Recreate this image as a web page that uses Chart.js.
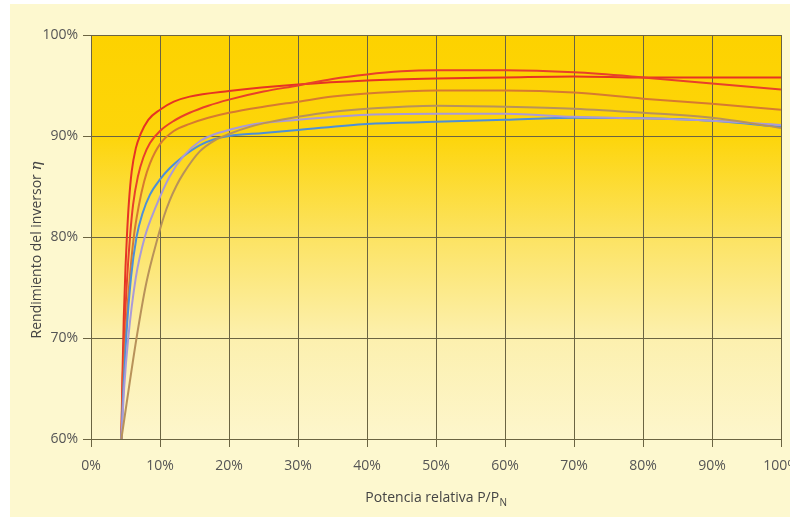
<!DOCTYPE html>
<html>
<head>
<meta charset="utf-8">
<script src="https://cdn.jsdelivr.net/npm/chart.js@4.4.1/dist/chart.umd.min.js"></script>
<style>
  html, body { margin: 0; padding: 0; background: #fff; }
  canvas { display: block; }
</style>
</head>
<body>
<canvas id="myChart" width="790" height="517"></canvas>
<script>
// curvas de rendimiento: [P/PN en %, rendimiento en %]
let rojo1 = [[4.4, 60], [4.55, 66], [4.75, 72], [5.0, 77], [5.2, 80], [5.5, 83.5], [5.9, 86.5], [6.5, 88.8], [7.2, 90.2], [8.3, 91.6], [10, 92.6], [12, 93.4], [14.3, 93.9], [20, 94.45], [30, 95.1], [40, 95.5], [50, 95.7], [60, 95.8], [70, 95.9], [80, 95.8], [90, 95.8], [100, 95.8]];
let rojo2 = [[4.4, 60], [4.6, 66], [4.8, 70], [5.2, 75.5], [5.65, 80], [6.1, 83.2], [6.8, 86], [7.6, 87.9], [8.55, 89.3], [10, 90.5], [12, 91.5], [14.3, 92.3], [17, 93], [20, 93.6], [25, 94.4], [30, 95.0], [35, 95.65], [40, 96.1], [45, 96.4], [50, 96.5], [60, 96.5], [70, 96.3], [80, 95.8], [90, 95.2], [100, 94.6]];
let naranja = [[4.4, 60], [4.7, 66], [5.0, 70], [5.5, 75], [6.2, 80], [6.9, 83], [7.7, 85.5], [8.55, 87.3], [10, 89.2], [12, 90.5], [14.3, 91.2], [17, 91.8], [20, 92.3], [25, 92.9], [30, 93.4], [35, 93.9], [40, 94.2], [50, 94.5], [60, 94.5], [70, 94.3], [80, 93.7], [90, 93.2], [100, 92.6]];
let marron = [[4.4, 60], [6.6, 70], [8.0, 75.4], [9.7, 80], [10.6, 82.1], [11.4, 83.6], [12.4, 85.1], [13.4, 86.3], [15.8, 88.5], [18, 89.6], [20, 90.2], [23, 90.9], [26, 91.4], [30, 91.9], [35, 92.4], [40, 92.7], [50, 93.0], [60, 92.9], [70, 92.7], [80, 92.3], [90, 91.8], [100, 90.8]];
let lila = [[4.4, 60], [4.8, 65], [5.4, 70], [6.5, 76], [7.8, 80], [9.4, 83], [11.4, 86], [13.4, 88], [15.8, 89.5], [18, 90.2], [20, 90.6], [23, 91.1], [30, 91.6], [40, 92.1], [50, 92.2], [60, 92.2], [70, 91.9], [80, 91.75], [90, 91.5], [100, 91.1]];
let azul = [[4.4, 60], [4.7, 65], [5.1, 70], [5.8, 76], [6.6, 80], [7.5, 82.4], [8.55, 84.2], [10, 85.7], [11.4, 86.8], [13.4, 88], [15.8, 89.1], [18, 89.7], [20, 90], [25, 90.3], [30, 90.6], [40, 91.2], [50, 91.4], [60, 91.6], [70, 91.8], [80, 91.75], [90, 91.5], [100, 90.9]];

let xTicks = [0, 10, 20, 30, 40, 50, 60, 70, 80, 90, 100];
let yTicks = [60, 70, 80, 90, 100];

let gridColor = '#6b6442';
let textColor = '#555';

let fondo = {
  id: 'fondo',
  beforeDraw(chart) {
    let ctx = chart.ctx, a = chart.chartArea;
    ctx.save();
    ctx.fillStyle = '#ffffff';
    ctx.fillRect(0, 0, chart.width, chart.height);
    ctx.fillStyle = '#fdf8cf';
    ctx.fillRect(10, 4, chart.width - 10, chart.height - 4);
    let g = ctx.createLinearGradient(0, a.top, 0, a.bottom);
    g.addColorStop(0, '#fdd200');
    g.addColorStop(0.25, '#fdd50a');
    g.addColorStop(0.5, '#fce362');
    g.addColorStop(0.75, '#fcf0ae');
    g.addColorStop(1, '#fdf6cc');
    ctx.fillStyle = g;
    ctx.fillRect(a.left, a.top, a.right - a.left, a.bottom - a.top);
    ctx.restore();
  }
};

// titulos de ejes (con subindice y letra griega en cursiva)
let titulos = {
  id: 'titulos',
  afterDraw(chart) {
    let ctx = chart.ctx, a = chart.chartArea;
    ctx.save();
    ctx.fillStyle = '#444';
    ctx.textBaseline = 'alphabetic';
    ctx.textAlign = 'left';

    let t1 = 'Potencia relativa P/P';
    ctx.font = '14px "Open Sans"';
    let w1 = ctx.measureText(t1).width;
    ctx.font = '10px "Open Sans"';
    let w2 = ctx.measureText('N').width;
    let x0 = (a.left + a.right) / 2 - (w1 + w2) / 2;
    ctx.font = '14px "Open Sans"';
    ctx.fillText(t1, x0, 502);
    ctx.font = '10px "Open Sans"';
    ctx.fillText('N', x0 + w1 + 0.5, 506);

    let t2 = 'Rendimiento del inversor ';
    ctx.translate(41, 250);
    ctx.rotate(-Math.PI / 2);
    ctx.font = '14px "Open Sans"';
    let w3 = ctx.measureText(t2).width;
    ctx.font = 'italic 15px "DejaVu Serif"';
    let w4 = ctx.measureText('η').width;
    let s = -(w3 + w4) / 2;
    ctx.font = '14px "Open Sans"';
    ctx.fillText(t2, s, 0);
    ctx.font = 'italic 15px "DejaVu Serif"';
    ctx.fillText('η', s + w3, 0);
    ctx.restore();
  }
};

function serie(puntos, color) {
  return {
    data: puntos.map(p => ({ x: p[0], y: p[1] })),
    borderColor: color,
    borderWidth: 2,
    pointRadius: 0,
    fill: false,
    cubicInterpolationMode: 'monotone'
  };
}

let ctx = document.getElementById('myChart').getContext('2d');

let myChart = new Chart(ctx, {
  type: 'line',
  data: {
    datasets: [
      serie(marron, '#b8925a'),
      serie(lila, '#a99ad8'),
      serie(azul, '#4d8fd8'),
      serie(naranja, '#d77a30'),
      serie(rojo2, '#e8402a'),
      serie(rojo1, '#e63323')
    ]
  },
  options: {
    responsive: false,
    animation: false,
    devicePixelRatio: 1,
    layout: {
      padding: { left: 0, right: 9, top: 35, bottom: 0 }
    },
    plugins: {
      legend: { display: false },
      tooltip: { enabled: false }
    },
    scales: {
      x: {
        type: 'linear',
        min: 0,
        max: 100,
        afterBuildTicks: (scale) => {
          scale.ticks = xTicks.map(v => ({ value: v }));
        },
        afterFit: (scale) => {
          scale.height = 78;
          scale.paddingLeft = 0;
          scale.paddingRight = 0;
        },
        grid: {
          color: gridColor,
          lineWidth: 1,
          tickLength: 8
        },
        border: { color: gridColor },
        ticks: {
          color: textColor,
          padding: 11,
          maxRotation: 0,
          autoSkip: false,
          font: { family: '"Open Sans"', size: 14 },
          callback: (v) => v + '%'
        }
      },
      y: {
        min: 60,
        max: 100,
        afterBuildTicks: (scale) => {
          scale.ticks = yTicks.map(v => ({ value: v }));
        },
        afterFit: (scale) => {
          scale.width = 91;
          scale.paddingTop = 0;
          scale.paddingBottom = 0;
        },
        grid: {
          color: gridColor,
          lineWidth: 1,
          tickLength: 8
        },
        border: { color: gridColor },
        ticks: {
          color: textColor,
          padding: 5,
          font: { family: '"Open Sans"', size: 14 },
          callback: (v) => v + '%'
        }
      }
    }
  },
  plugins: [fondo, titulos]
});
</script>
</body>
</html>
